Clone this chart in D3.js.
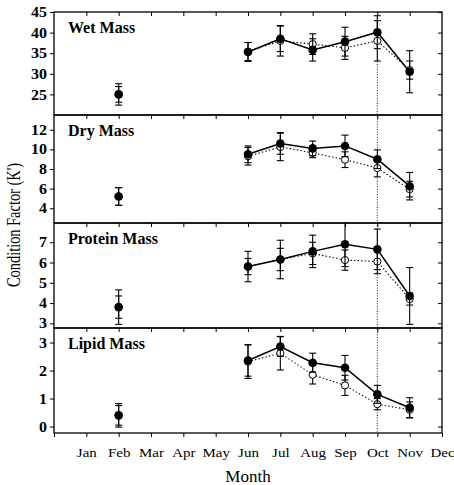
<!DOCTYPE html>
<html>
<head>
<meta charset="utf-8">
<script src="https://cdn.jsdelivr.net/npm/d3@7"></script>
<style>
  body { margin: 0; background: #fff; }
  text { font-family: "Liberation Serif", "Times New Roman", serif; fill: #000; }
</style>
</head>
<body>
<svg id="chart" width="454" height="485"></svg>
<script>
// sampling months (1 = Jan)
var months = [2, 6, 7, 8, 9, 10, 11];
var monthLabels = ["", "Jan", "Feb", "Mar", "Apr", "May", "Jun", "Jul", "Aug", "Sep", "Oct", "Nov", "Dec"];

// filled = solid line, open = dotted line
var wetFilled    = [25.0, 35.3, 38.5, 35.8, 37.8, 40.1, 30.5];
var wetFilledErr = [2.6, 2.3, 3.1, 2.7, 3.5, 4.0, 5.1];
var wetOpen      = [25.0, 35.4, 38.0, 37.2, 36.3, 38.0, 30.9];
var wetOpenErr   = [1.9, 2.2, 3.7, 2.5, 2.8, 4.9, 2.2];

var dryFilled    = [5.2, 9.5, 10.6, 10.1, 10.35, 9.0, 6.25];
var dryFilledErr = [0.9, 0.85, 1.1, 0.75, 1.1, 0.95, 1.4];
var dryOpen      = [5.2, 9.3, 10.25, 9.65, 8.95, 8.1, 5.95];
var dryOpenErr   = [0.9, 0.9, 1.4, 0.5, 0.8, 0.9, 0.8];

var protFilled    = [3.8, 5.8, 6.15, 6.55, 6.9, 6.65, 4.35];
var protFilledErr = [0.85, 0.75, 0.95, 0.8, 1.1, 1.0, 1.4];
var protOpen      = [3.8, 5.8, 6.15, 6.45, 6.12, 6.05, 4.2];
var protOpenErr   = [0.55, 0.4, 0.55, 0.55, 0.5, 0.6, 0.3];

var lipFilled    = [0.4, 2.36, 2.86, 2.28, 2.1, 1.15, 0.67];
var lipFilledErr = [0.42, 0.56, 0.35, 0.34, 0.44, 0.32, 0.36];
var lipOpen      = [0.4, 2.32, 2.62, 1.85, 1.47, 0.8, 0.6];
var lipOpenErr   = [0.35, 0.6, 0.6, 0.33, 0.36, 0.2, 0.28];

var titles = ["Wet Mass", "Dry Mass", "Protein Mass", "Lipid Mass"];
var yDomains = [[20, 45], [2.5, 13.5], [2.77, 7.95], [-0.23, 3.52]];
var yTicks = [[25, 30, 35, 40, 45], [4, 6, 8, 10, 12], [3, 4, 5, 6, 7], [0, 1, 2, 3]];

var svg = d3.select("#chart");
var left = 54, right = 442;
var edges = [12, 115, 223, 328, 433];   // panel borders, top to bottom

var x = d3.scaleLinear().domain([0, 12]).range([left, right]);

function pts(vals, errs) {
  return months.map(function(m, i) { return {m: m, v: vals[i], e: errs[i]}; });
}

var panels = [
  {filled: pts(wetFilled, wetFilledErr),   open: pts(wetOpen, wetOpenErr)},
  {filled: pts(dryFilled, dryFilledErr),   open: pts(dryOpen, dryOpenErr)},
  {filled: pts(protFilled, protFilledErr), open: pts(protOpen, protOpenErr)},
  {filled: pts(lipFilled, lipFilledErr),   open: pts(lipOpen, lipOpenErr)}
];

// vertical dotted marker at October
svg.append("line")
  .attr("x1", x(10)).attr("x2", x(10))
  .attr("y1", edges[0]).attr("y2", edges[4])
  .attr("stroke", "#000").attr("stroke-width", 0.9)
  .attr("stroke-dasharray", "1,1.6");

function styleTicks(sel) {
  sel.select(".domain").remove();
  sel.selectAll("line").attr("stroke", "#000").attr("stroke-width", 1);
}

panels.forEach(function(p, i) {
  var y0 = edges[i], y1 = edges[i + 1];
  var y = d3.scaleLinear().domain(yDomains[i]).range([y1, y0]);
  var g = svg.append("g");

  g.append("clipPath").attr("id", "clip" + i)
    .append("rect").attr("x", left).attr("y", y0).attr("width", right - left).attr("height", y1 - y0);

  // left axis with labels
  var ax = g.append("g").attr("transform", "translate(" + left + ",0)")
    .call(d3.axisLeft(y).tickValues(yTicks[i]).tickSize(4).tickPadding(3).tickFormat(d3.format("d")));
  styleTicks(ax);
  ax.selectAll("text")
    .attr("font-family", "Liberation Serif").attr("font-size", 16).attr("font-weight", "bold")
    .attr("transform", "scale(1,0.9)");

  // inward ticks on the right
  var ar = g.append("g").attr("transform", "translate(" + right + ",0)")
    .call(d3.axisLeft(y).tickValues(yTicks[i]).tickSize(4).tickFormat(""));
  styleTicks(ar);

  // inward month ticks along the top
  var at = g.append("g").attr("transform", "translate(0," + y0 + ")")
    .call(d3.axisBottom(x).tickValues(d3.range(1, 12)).tickSize(4).tickFormat(""));
  styleTicks(at);

  g.append("rect")
    .attr("x", left).attr("y", y0).attr("width", right - left).attr("height", y1 - y0)
    .attr("fill", "none").attr("stroke", "#000").attr("stroke-width", 1.3);

  g.append("text")
    .attr("x", 68).attr("y", y0 + 21)
    .attr("font-size", 16).attr("font-weight", "bold")
    .text(titles[i]);

  var plot = g.append("g").attr("clip-path", "url(#clip" + i + ")");
  var line = d3.line().x(function(d) { return x(d.m); }).y(function(d) { return y(d.v); });

  function errorBars(data) {
    var eb = plot.append("g").attr("stroke", "#000").attr("stroke-width", 1.1);
    data.forEach(function(d) {
      var cx = x(d.m), top = y(d.v + d.e), bot = y(d.v - d.e);
      eb.append("line").attr("x1", cx).attr("x2", cx).attr("y1", top).attr("y2", bot);
      eb.append("line").attr("x1", cx - 3.5).attr("x2", cx + 3.5).attr("y1", top).attr("y2", top);
      eb.append("line").attr("x1", cx - 3.5).attr("x2", cx + 3.5).attr("y1", bot).attr("y2", bot);
    });
  }

  // Feb is a lone sample, lines only join Jun-Nov
  var joinedOpen = p.open.filter(function(d) { return d.m >= 6; });
  var joinedFilled = p.filled.filter(function(d) { return d.m >= 6; });

  errorBars(p.open);
  plot.append("path").datum(joinedOpen)
    .attr("d", line).attr("fill", "none").attr("stroke", "#000")
    .attr("stroke-width", 1.1).attr("stroke-dasharray", "1.4,2.2");
  plot.selectAll(".open").data(p.open).enter().append("circle")
    .attr("class", "open")
    .attr("cx", function(d) { return x(d.m); }).attr("cy", function(d) { return y(d.v); })
    .attr("r", 3.6).attr("fill", "#fff").attr("stroke", "#000").attr("stroke-width", 1);

  errorBars(p.filled);
  plot.append("path").datum(joinedFilled)
    .attr("d", line).attr("fill", "none").attr("stroke", "#000").attr("stroke-width", 1.5);
  plot.selectAll(".filled").data(p.filled).enter().append("circle")
    .attr("class", "filled")
    .attr("cx", function(d) { return x(d.m); }).attr("cy", function(d) { return y(d.v); })
    .attr("r", 4.3).attr("fill", "#000");
});

// month axis along the bottom
var ab = svg.append("g").attr("transform", "translate(0," + edges[4] + ")")
  .call(d3.axisBottom(x).tickValues(d3.range(0, 13)).tickSize(4).tickPadding(4)
    .tickFormat(function(m) { return monthLabels[m]; }));
styleTicks(ab);
ab.selectAll("text")
  .attr("font-family", "Liberation Serif").attr("font-size", 15)
  .attr("y", 26.5).attr("dy", 0)
  .attr("transform", "scale(1,0.9)");

svg.append("text")
  .attr("x", (left + right) / 2).attr("y", 481.5)
  .attr("text-anchor", "middle").attr("font-size", 17)
  .text("Month");

svg.append("text")
  .attr("transform", "translate(20," + 225 + ") rotate(-90) scale(0.8,1)")
  .attr("text-anchor", "middle").attr("font-size", 18)
  .text("Condition Factor (K')");
</script>
</body>
</html>
